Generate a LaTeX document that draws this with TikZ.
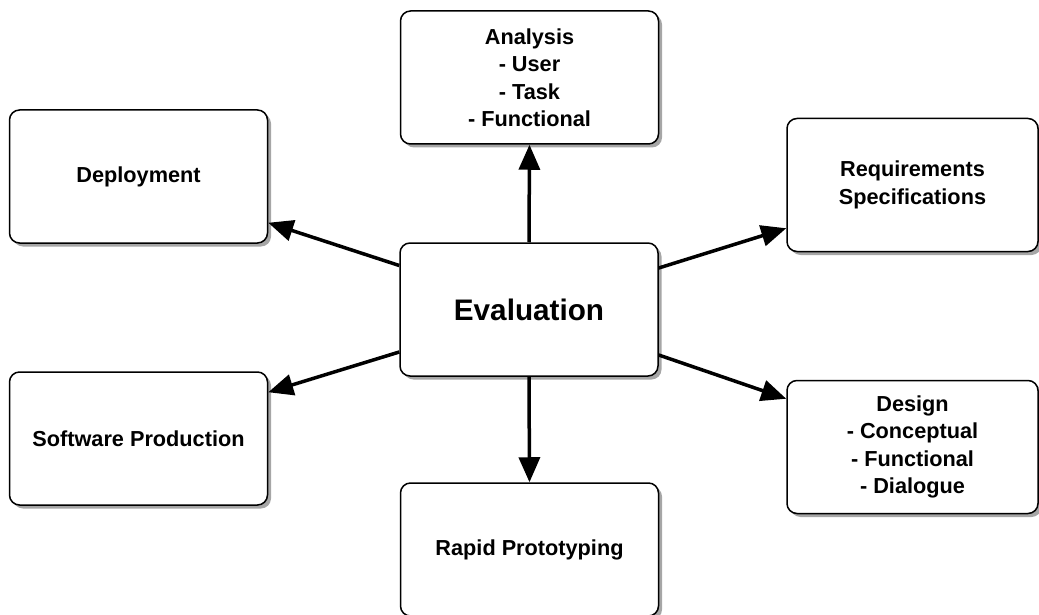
\documentclass[tikz,border=0pt]{standalone}
\usepackage{fontspec}
\setmainfont{Liberation Sans}
\usetikzlibrary{arrows.meta,shadows,calc}
\begin{document}
\begin{tikzpicture}[x=1pt,y=-1pt,
  box/.style={draw=black, line width=1.5pt, fill=white, rounded corners=10pt,
    minimum width=258pt, minimum height=133pt, align=center, inner sep=0pt,
    font=\fontsize{21.7}{27.5}\selectfont\bfseries,
    drop shadow={shadow xshift=3.5pt, shadow yshift=-3.5pt, fill=black, opacity=0.35}},
  rbox/.style={box, minimum width=251pt},
  conn/.style={line width=3.5pt, -{Triangle[length=25pt,width=21pt]}}]
\useasboundingbox (0,0) rectangle (1039,615);
\node[box] (ana) at (529.5,77.5) {Analysis\\- User\\- Task\\- Functional};
\node[box] (dep) at (138.5,176.5) {Deployment};
\node[rbox] (req) at (912.5,185) {Requirements\\Specifications};
\node[box, font=\fontsize{29.7}{34}\selectfont\bfseries] (eval) at (529,309.5) {Evaluation};
\node[box] (sw) at (138.5,438.5) {Software Production};
\node[rbox] (des) at (912.5,447) {Design\\- Conceptual\\- Functional\\- Dialogue};
\node[box] (rap) at (529.5,549.5) {Rapid Prototyping};
\draw[conn] (eval.north) -- (ana.south);
\draw[conn] (eval.south) -- (rap.north);
\draw[conn] ($(eval.west)+(0,-44)$) -- ($(dep.south east)+(0,-21)$);
\draw[conn] ($(eval.west)+(0,42.5)$) -- ($(sw.north east)+(0,21)$);
\draw[conn] ($(eval.east)+(0,-41.5)$) -- ($(req.south west)+(0,-24)$);
\draw[conn] ($(eval.east)+(0,45.5)$) -- ($(des.north west)+(0,19)$);
\end{tikzpicture}
\end{document}
